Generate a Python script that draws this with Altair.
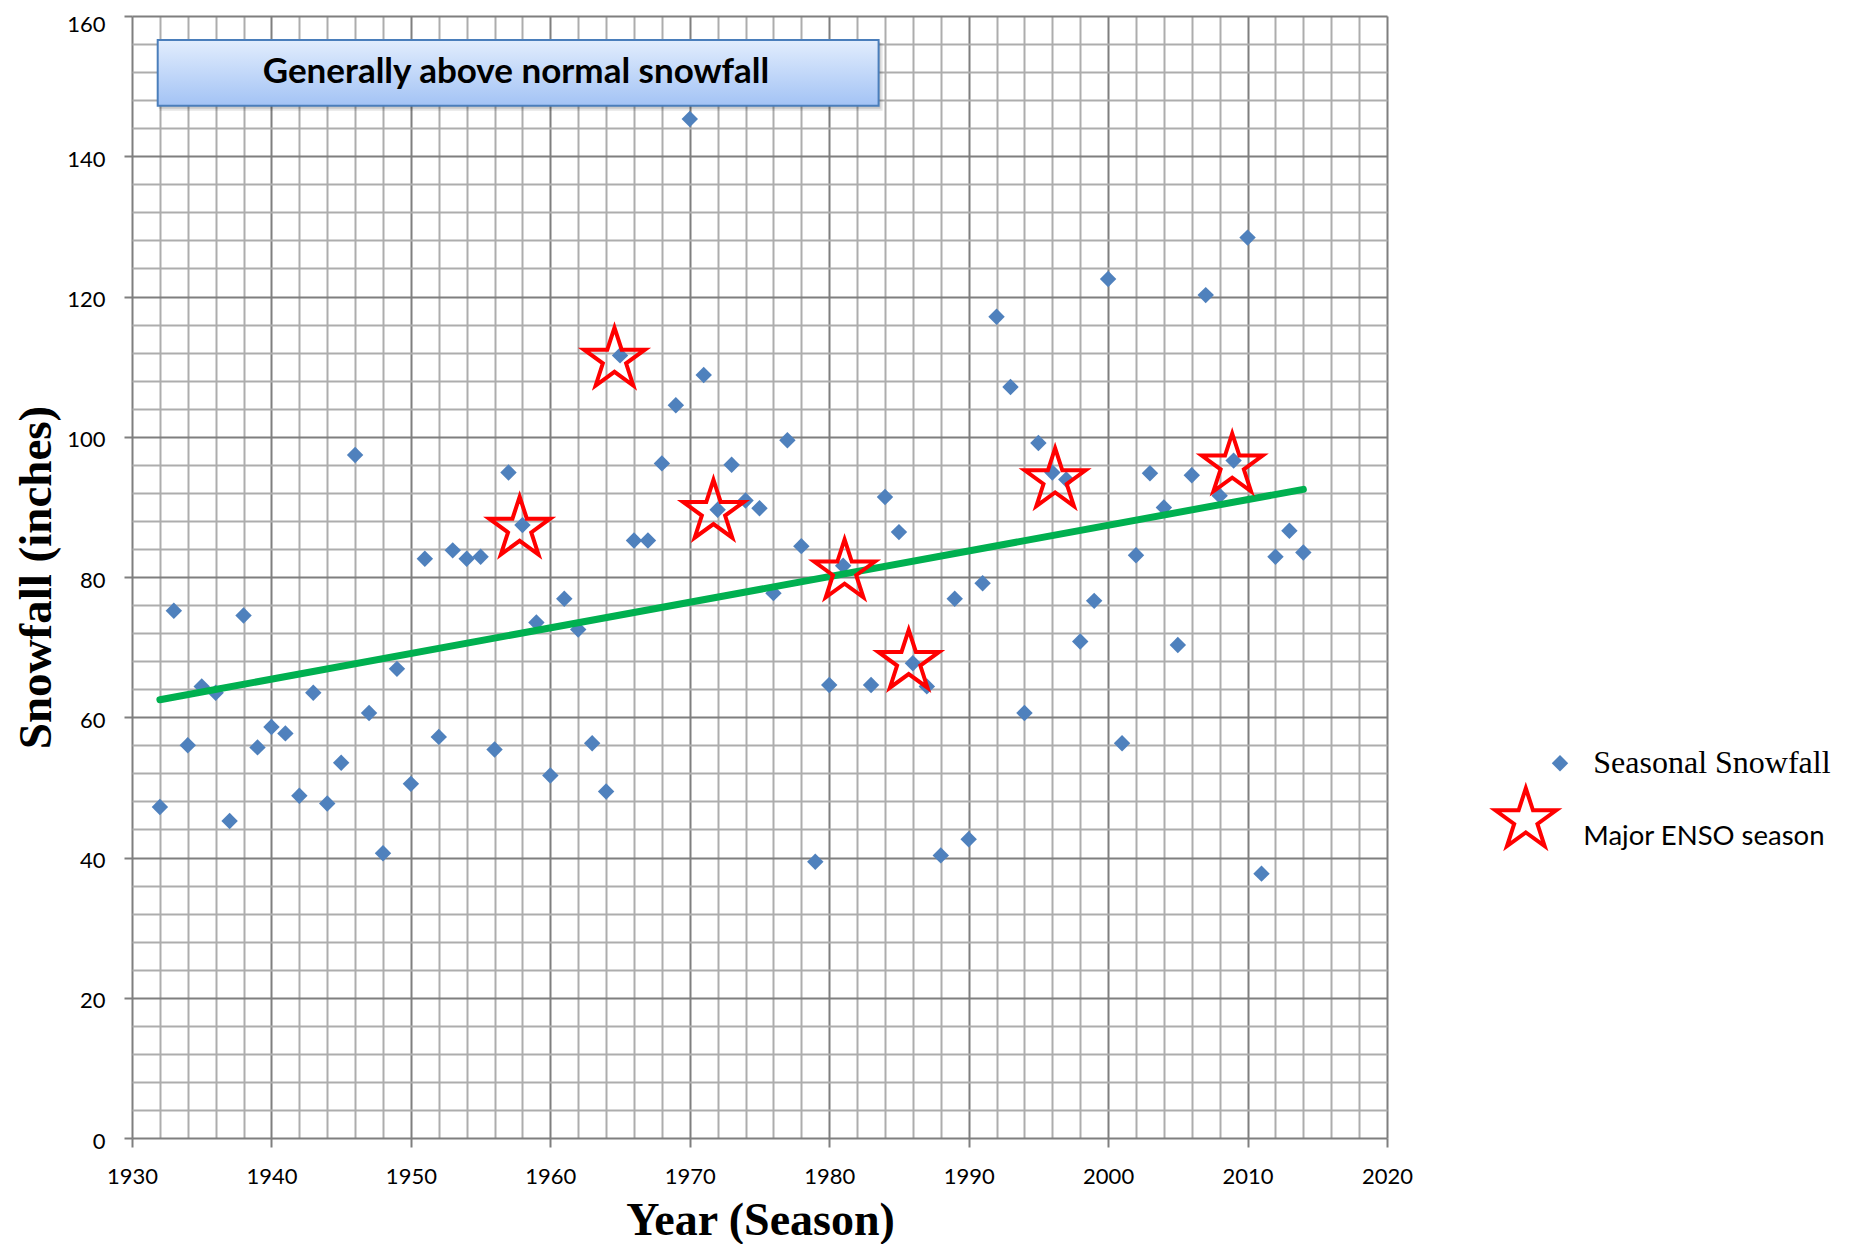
import altair as alt
import pandas as pd

# ---------------- data ----------------
years = [1932, 1933, 1934, 1935, 1936, 1937, 1938, 1939, 1940, 1941,
         1942, 1943, 1944, 1945, 1946, 1947, 1948, 1949, 1950, 1951,
         1952, 1953, 1954, 1955, 1956, 1957, 1958, 1959, 1960, 1961,
         1962, 1963, 1964, 1965, 1966, 1967, 1968, 1969, 1970, 1971,
         1972, 1973, 1974, 1975, 1976, 1977, 1978, 1979, 1980, 1981,
         1983, 1984, 1985, 1986, 1987, 1988, 1989, 1990, 1991, 1992,
         1993, 1994, 1995, 1996, 1997, 1998, 1999, 2000, 2001, 2002,
         2003, 2004, 2005, 2006, 2007, 2008, 2009, 2010, 2011, 2012,
         2013, 2014]
snowfall = [47.2, 75.2, 56.0, 64.4, 63.5, 45.2, 74.5, 55.7, 58.6, 57.7,
            48.8, 63.5, 47.7, 53.5, 97.4, 60.6, 40.6, 66.9, 50.5, 82.6,
            57.2, 83.8, 82.6, 82.9, 55.4, 94.9, 87.4, 73.5, 51.7, 76.9,
            72.5, 56.3, 49.4, 111.6, 85.2, 85.2, 96.2, 104.5, 145.3, 108.8,
            89.6, 96.0, 90.9, 89.8, 77.7, 99.5, 84.4, 39.4, 64.6, 81.6,
            64.6, 91.4, 86.4, 67.7, 64.4, 40.3, 76.9, 42.6, 79.1, 117.1,
            107.1, 60.6, 99.1, 94.9, 93.9, 70.8, 76.6, 122.5, 56.3, 83.1,
            94.8, 89.9, 70.3, 94.5, 120.2, 91.6, 96.6, 128.4, 37.7, 82.9,
            86.6, 83.5]

enso_years = [1957.8, 1964.6, 1971.7, 1981.1, 1985.7, 1996.2, 2008.9]
enso_values = [86.9, 111.0, 89.3, 80.8, 67.9, 93.8, 95.9]

trend_years = [1932, 2014]
trend_values = [62.5, 92.5]

x_ticks = list(range(1930, 2021, 2))
y_ticks = list(range(0, 161, 4))

box_text = "Generally above normal snowfall"
legend_labels = ["Seasonal Snowfall", "Major ENSO season"]
x_title = "Year (Season)"
y_title = "Snowfall (inches)"

# ---------------- styling ----------------
W, H = 1255, 1122
BLUE = "#4F81BD"
RED = "#FF0000"
GREEN = "#00B050"
MAJOR = "#7F7F7F"
MINOR = "#ADADAD"
STAR = ("M0,-1L0.2245,-0.309L0.9511,-0.309L0.3633,0.118L0.5878,0.809"
        "L0,0.382L-0.5878,0.809L-0.3633,0.118L-0.9511,-0.309L-0.2245,-0.309Z")

pts = pd.DataFrame({"year": years, "value": snowfall})
stars = pd.DataFrame({"year": enso_years, "value": enso_values})
trend = pd.DataFrame({"year": trend_years, "value": trend_values})
one = pd.DataFrame({"k": [0]})

axis_x = alt.Axis(
    values=x_ticks, format="d",
    labelExpr="datum.value % 10 === 0 ? datum.label : ''",
    labelFont="Lato", labelFontSize=22, labelColor="#000000",
    labelPadding=19.5, labelOverlap=False, labelFlush=False,
    grid=True, gridWidth=2,
    gridColor={"condition": {"test": "datum.value % 10 === 0", "value": MAJOR}, "value": MINOR},
    tickColor={"condition": {"test": "datum.value % 10 === 0", "value": MAJOR}, "value": "transparent"},
    tickSize=9, tickWidth=2, domain=False,
    title=x_title, titleFont="Liberation Serif", titleFontSize=46,
    titleFontWeight="bold", titleColor="#000000",
    titleX=628, titleY=96, titleAlign="center", titleBaseline="alphabetic",
)
axis_y = alt.Axis(
    values=y_ticks, format="d",
    labelExpr="datum.value % 20 === 0 ? datum.label : ''",
    labelFont="Lato", labelFontSize=22, labelColor="#000000",
    labelPadding=19, labelOverlap=False, labelFlush=False,
    labelOffset={"condition": {"test": "datum.value === 160", "value": 8}, "value": 3},
    grid=True, gridWidth=2,
    gridColor={"condition": {"test": "datum.value % 20 === 0", "value": MAJOR}, "value": MINOR},
    tickColor={"condition": {"test": "datum.value % 20 === 0", "value": MAJOR}, "value": "transparent"},
    tickSize=8, tickWidth=2, domain=False,
    title=y_title, titleFont="Liberation Serif", titleFontSize=47,
    titleFontWeight="bold", titleColor="#000000",
    titleX=-82, titleY=561, titleAngle=270, titleAlign="center", titleBaseline="alphabetic",
)

X = alt.X("year:Q", scale=alt.Scale(domain=[1930, 2020], nice=False, zero=False), axis=axis_x)
Y = alt.Y("value:Q", scale=alt.Scale(domain=[0, 160], nice=False), axis=axis_y)

diamonds = alt.Chart(pts).mark_point(shape="diamond", filled=True, color=BLUE,
                                     opacity=1, size=270).encode(x=X, y=Y)
trendline = alt.Chart(trend).mark_line(color=GREEN, strokeWidth=7,
                                       strokeCap="round").encode(x=X, y=Y)
star_marks = alt.Chart(stars).mark_point(shape=STAR, filled=False, stroke=RED,
                                         strokeWidth=4, size=4096, opacity=1,
                                         fillOpacity=0).encode(x=X, y=Y)

# text box annotation (pixel positions inside the plot)
bx0, bx1, by0, by1 = 25.7, 746.6, 24, 89.7
shadow1 = alt.Chart(one).mark_rect(color="#000000", opacity=0.10).encode(
    x=alt.value(bx0 + 2), x2=alt.value(bx1 + 4), y=alt.value(by0 + 3), y2=alt.value(by1 + 5))
shadow2 = alt.Chart(one).mark_rect(color="#000000", opacity=0.12).encode(
    x=alt.value(bx0 + 1), x2=alt.value(bx1 + 2), y=alt.value(by0 + 2), y2=alt.value(by1 + 3))
grad = alt.LinearGradient(gradient="linear",
                          stops=[alt.GradientStop(color="#E2EDFD", offset=0),
                                 alt.GradientStop(color="#A3C3F5", offset=1)],
                          x1=0, x2=0, y1=0, y2=1)
box = alt.Chart(one).mark_rect(fill=grad, stroke="#4A7EBB", strokeWidth=2).encode(
    x=alt.value(bx0), x2=alt.value(bx1), y=alt.value(by0), y2=alt.value(by1))
boxlabel = alt.Chart(one).mark_text(text=box_text, font="Lato", fontSize=35,
                                    fontWeight="bold", color="#000000",
                                    align="center", baseline="alphabetic").encode(
    x=alt.value(384), y=alt.value(66.8))

# manual legend (pixel positions relative to plot origin)
leg_d = alt.Chart(one).mark_point(shape="diamond", filled=True, color=BLUE,
                                  opacity=1, size=270).encode(
    x=alt.value(1428), y=alt.value(747.3))
leg_dt = alt.Chart(one).mark_text(text=legend_labels[0], font="Liberation Serif",
                                  fontSize=32, color="#000000", align="left",
                                  baseline="alphabetic").encode(
    x=alt.value(1461.3), y=alt.value(756.7))
leg_s = alt.Chart(one).mark_point(shape=STAR, filled=True, fill="#FFFFFF", stroke=RED,
                                  strokeWidth=4, size=4096, opacity=1).encode(
    x=alt.value(1393.8), y=alt.value(804.2))
leg_st = alt.Chart(one).mark_text(text=legend_labels[1], font="Lato",
                                  fontSize=27.5, color="#000000", align="left",
                                  baseline="alphabetic").encode(
    x=alt.value(1451.3), y=alt.value(829))

chart = alt.layer(
    shadow1, shadow2, box, boxlabel, diamonds, trendline, star_marks,
    leg_d, leg_dt, leg_s, leg_st
).properties(
    width=W, height=H,
    padding={"left": 124, "top": 8, "right": 455, "bottom": 106},
    autosize=alt.AutoSizeParams(type="none"),
).configure_view(stroke=None)

chart.save("out.html", embed_options={"renderer": "svg", "actions": False})
